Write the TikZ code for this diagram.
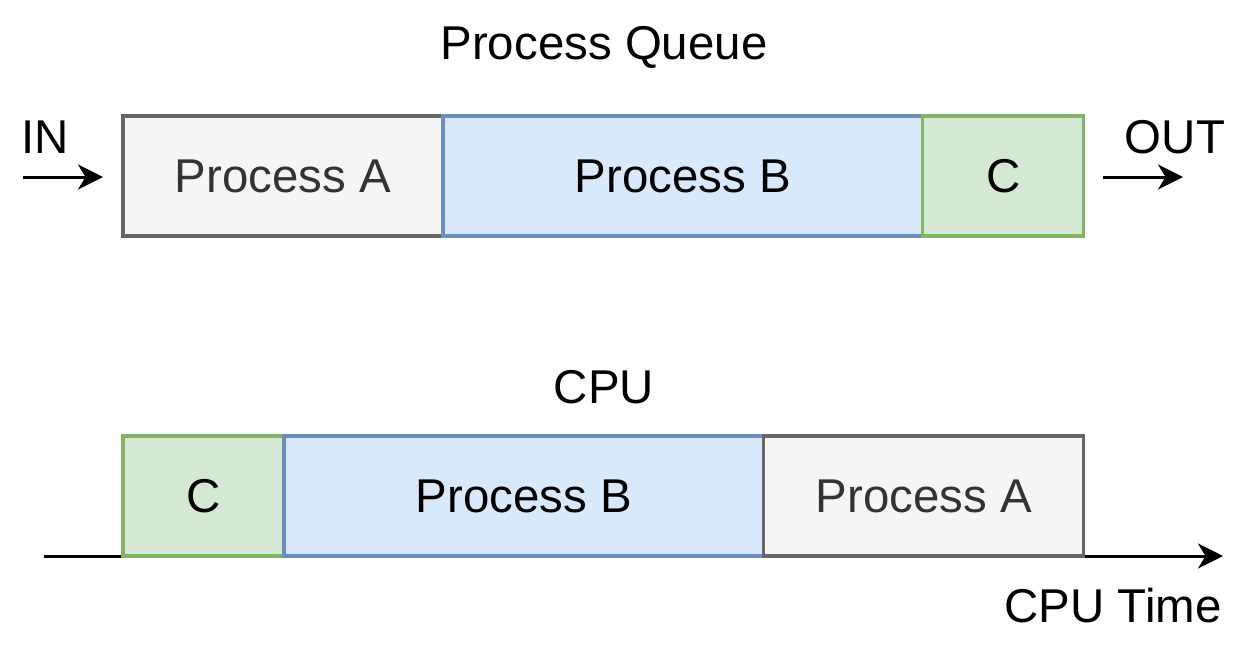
\documentclass[tikz,border=0pt]{standalone}
\usepackage{fontspec}
\setmainfont{Liberation Sans}
\usetikzlibrary{arrows.meta,positioning}

\definecolor{grayfill}{HTML}{F5F5F5}
\definecolor{graydraw}{HTML}{666666}
\definecolor{bluefill}{HTML}{DAE8FC}
\definecolor{bluedraw}{HTML}{6C8EBF}
\definecolor{greenfill}{HTML}{D5E8D4}
\definecolor{greendraw}{HTML}{82B366}

\tikzset{
  txt/.style={font=\fontsize{27}{31}\selectfont},
  slot/.style={txt, draw, line width=1.8pt, minimum height=2.4cm,
    inner sep=0pt, outer sep=0pt},
  slotA/.style={slot, fill=grayfill, draw=graydraw, text=black!80, minimum width=6.4cm},
  slotB/.style={slot, fill=bluefill, draw=bluedraw, minimum width=9.6cm},
  slotC/.style={slot, fill=greenfill, draw=greendraw, minimum width=3.22cm},
  flow/.style={line width=1.7pt, -{Stealth[length=0.5cm,width=0.5cm,inset=0.15cm]}}
}

\begin{document}
\begin{tikzpicture}[x=0.02cm,y=-0.02cm]
\useasboundingbox (0,0) rectangle (1246,650);

% time axis under the CPU row
\coordinate (tstart) at (44,556);
\coordinate (tend) at (1223,556);
\draw[flow] (tstart) -- (tend);

% process queue
\node[txt] (qtitle) at (604,47) {Process Queue};
\node[slotA] (qA) at (283,176) {Process A};
\node[slotB, right=0pt of qA] (qB) {Process B};
\node[slotC, right=0pt of qB] (qC) {C};

\node[txt] (in) at (45,137) {IN};
\node[txt] (out) at (1175,137) {OUT};
\coordinate (instart) at (23,177);
\coordinate (inend) at (103,177);
\coordinate (outstart) at (1103,177);
\coordinate (outend) at (1183,177);
\draw[flow] (instart) -- (inend);
\draw[flow] (outstart) -- (outend);

% cpu
\node[txt] (ctitle) at (604,387) {CPU};
\node[slotC] (cC) at (203.5,496) {C};
\node[slotB, right=0pt of cC] (cB) {Process B};
\node[slotA, right=0pt of cB] (cA) {Process A};

\node[txt] (ctime) at (1113,606) {CPU Time};
\end{tikzpicture}
\end{document}
